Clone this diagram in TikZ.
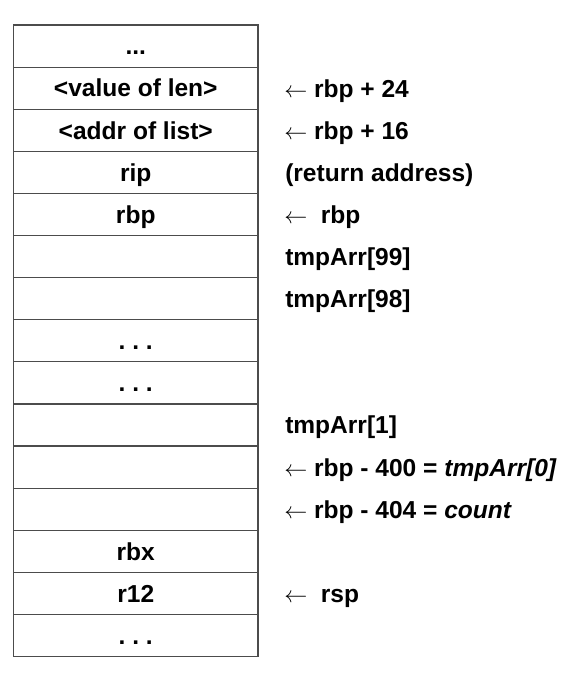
\documentclass[tikz,border=0pt]{standalone}
\usepackage{fontspec}
\setmainfont{Liberation Sans}
\usepackage{tikz}

\tikzset{
  cell/.style={draw=black!70, line width=0.9pt, minimum width=183.375pt, minimum height=31.575pt, inner sep=0pt, text height=13.2pt, text depth=0pt, font=\bfseries\fontsize{18.4}{22}\selectfont},
  note/.style={anchor=west, inner sep=0pt, text height=13.2pt, text depth=0pt, font=\bfseries\fontsize{18.4}{22}\selectfont}
}

\begin{document}
\begin{tikzpicture}[x=0.75pt,y=0.75pt,yscale=-1,xscale=1]

\useasboundingbox (0,0) rectangle (582,679);


\node [cell] (top) at (135.75,46.05) {...};

\node [cell] (len) at (135.75,88.15) {<value of len>};

\node [cell] (list) at (135.75,130.25) {<addr of list>};

\node [cell] (rip) at (135.75,172.35) {rip};

\node [cell] (rbp) at (135.75,214.45) {rbp};

\node [cell] (arr99) at (135.75,256.55) {};

\node [cell] (arr98) at (135.75,298.65) {};

\node [cell] (dotsa) at (135.75,340.75) {.\ .\ .};

\node [cell] (dotsb) at (135.75,382.85) {.\ .\ .};

\node [cell] (arr1) at (135.75,424.95) {};

\node [cell] (arr0) at (135.75,467.05) {};

\node [cell] (count) at (135.75,509.15) {};

\node [cell] (rbx) at (135.75,551.25) {rbx};

\node [cell] (r12) at (135.75,593.35) {r12};

\node [cell] (bottom) at (135.75,635.45) {.\ .\ .};


\node [note] (lenlbl) at (284,89) {$\leftarrow$ rbp + 24};

\node [note] (listlbl) at (284,131) {$\leftarrow$ rbp + 16};

\node [note] (riplbl) at (285,172.35) {(return address)};

\node [note] (rbplbl) at (284,215) {$\leftarrow$\ \ rbp};

\node [note] (arr99lbl) at (285,256.55) {tmpArr[99]};

\node [note] (arr98lbl) at (285,298.65) {tmpArr[98]};

\node [note] (arr1lbl) at (285,424.95) {tmpArr[1]};

\node [note] (arr0lbl) at (284,468) {$\leftarrow$ rbp - 400 = \textit{tmpArr[0]}};

\node [note] (countlbl) at (284,510) {$\leftarrow$ rbp - 404 = \textit{count}};

\node [note] (rsplbl) at (284,594) {$\leftarrow$\ \ rsp};


\end{tikzpicture}
\end{document}
